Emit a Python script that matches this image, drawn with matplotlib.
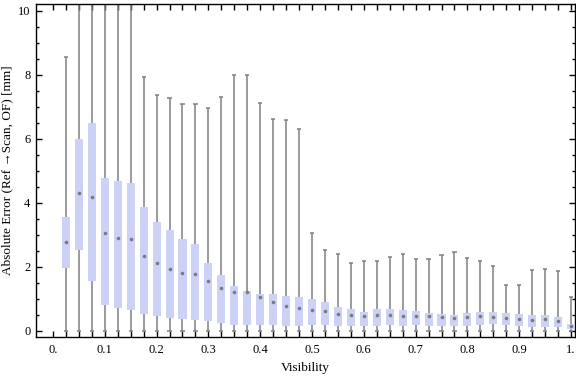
import matplotlib
matplotlib.use("Agg")
import matplotlib.pyplot as plt
import numpy as np

visibility = [0.025 * k for k in range(1, 41)]
whisker_top = [8.55, 12.0, 12.0, 12.0, 12.0, 12.0, 7.93, 7.36, 7.27, 7.08,
               7.10, 6.96, 7.30, 7.99, 7.99, 7.11, 6.62, 6.59, 6.30, 3.05,
               2.52, 2.39, 2.11, 2.17, 2.17, 2.30, 2.39, 2.23, 2.23, 2.36,
               2.45, 2.26, 2.17, 2.01, 1.42, 1.42, 1.89, 1.92, 1.86, 1.04]
q3 = [3.56, 6.00, 6.50, 4.78, 4.68, 4.62, 3.87, 3.40, 3.15, 2.87,
      2.71, 2.12, 1.74, 1.40, 1.24, 1.15, 1.15, 1.09, 1.05, 0.99,
      0.90, 0.74, 0.68, 0.58, 0.68, 0.68, 0.65, 0.62, 0.55, 0.52,
      0.49, 0.55, 0.58, 0.58, 0.55, 0.52, 0.49, 0.49, 0.43, 0.22]
median = [2.76, 4.31, 4.19, 3.06, 2.89, 2.86, 2.34, 2.12, 1.94, 1.80,
          1.77, 1.55, 1.34, 1.22, 1.20, 1.04, 0.91, 0.78, 0.70, 0.65,
          0.61, 0.52, 0.48, 0.45, 0.48, 0.48, 0.47, 0.47, 0.45, 0.42,
          0.39, 0.42, 0.45, 0.42, 0.39, 0.36, 0.32, 0.35, 0.29, 0.15]
q1 = [1.97, 2.53, 1.56, 0.81, 0.70, 0.64, 0.53, 0.47, 0.41, 0.38,
      0.34, 0.31, 0.25, 0.19, 0.19, 0.19, 0.19, 0.16, 0.16, 0.19,
      0.19, 0.16, 0.16, 0.16, 0.16, 0.19, 0.16, 0.19, 0.16, 0.16,
      0.16, 0.16, 0.19, 0.22, 0.19, 0.16, 0.13, 0.13, 0.13, 0.06]
whisker_bottom = [0.0] * 40

x_tick_values = [0.1 * i for i in range(11)]
x_tick_labels = ["0.", "0.1", "0.2", "0.3", "0.4", "0.5", "0.6", "0.7", "0.8", "0.9", "1."]
y_tick_values = [0, 2, 4, 6, 8, 10]
y_tick_labels = ["0", "2", "4", "6", "8", "10"]

plt.rcParams['font.family'] = ['Liberation Serif', 'DejaVu Serif']

fig = plt.figure(figsize=(5.76, 3.77), dpi=100)
ax = fig.add_axes([36 / 576, 1 - 337 / 377, (575 - 36) / 576, (337 - 4) / 377])

x = np.array(visibility)
wt = np.array(whisker_top)
wb = np.array(whisker_bottom)
b3 = np.array(q3)
b1 = np.array(q1)
med = np.array(median)

gray = '#808080'
box_w = 0.0155
cap_w = 0.008

ax.vlines(x, wb, wt, color=gray, lw=1.1, zorder=2)
ax.hlines(wt, x - cap_w / 2, x + cap_w / 2, color=gray, lw=1.1, zorder=2)
ax.hlines(wb, x - cap_w / 2, x + cap_w / 2, color=gray, lw=1.1, zorder=2)
ax.bar(x, b3 - b1, bottom=b1, width=box_w, color='#CCD2F5', edgecolor='none', zorder=3)
ax.plot(x, med, linestyle='none', marker='o', ms=2.6, color='#7a7a80', mew=0, zorder=4)

ax.set_xlim(-0.0328, 1.0077)
ax.set_ylim(-0.197, 10.21)

ax.set_xticks(x_tick_values)
ax.set_xticklabels(x_tick_labels)
ax.set_xticks(visibility, minor=True)
ax.set_yticks(y_tick_values)
ax.set_yticklabels(y_tick_labels)
ax.set_yticks(np.arange(0, 10.01, 0.5), minor=True)

ax.tick_params(axis='both', which='both', direction='in', top=True, right=True,
               width=1.0, color='black', labelsize=9)
ax.tick_params(axis='x', which='both', length=4.5, pad=5)
ax.tick_params(axis='y', which='major', length=4.5, pad=4)
ax.tick_params(axis='y', which='minor', length=2.5)

for s in ax.spines.values():
    s.set_linewidth(1.0)

ax.set_xlabel("Visibility", fontsize=9.5, labelpad=4)
ax.set_ylabel("Absolute Error (Ref \u2192Scan, OF) [mm]", fontsize=9.5, labelpad=3)

fig.savefig("out.png", dpi=100)
